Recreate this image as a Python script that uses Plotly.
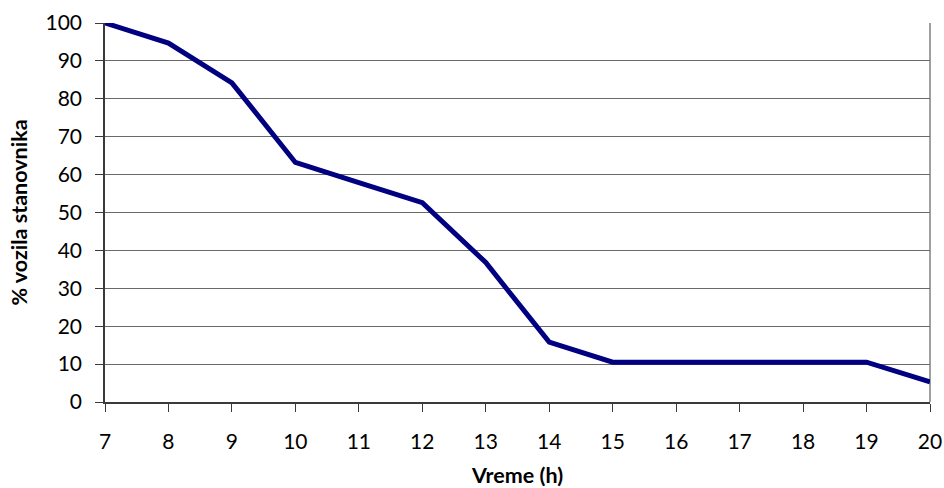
import plotly.graph_objects as go

# Hour of day and share of vehicles per inhabitant (%)
hours = [7, 8, 9, 10, 11, 12, 13, 14, 15, 16, 17, 18, 19, 20]
share = [100, 94.7, 84.2, 63.2, 57.9, 52.6, 36.8, 15.8, 10.5, 10.5, 10.5, 10.5, 10.5, 5.3]

x_ticks = list(range(7, 21))
y_ticks = list(range(0, 101, 10))

FONT = "Lato, 'Open Sans', sans-serif"
GRID = "#6a6a6a"
AXIS = "#3a3a3a"

fig = go.Figure()
fig.add_trace(go.Scatter(
    x=hours, y=share, mode="lines",
    line=dict(color="#000080", width=5),
    showlegend=False, hoverinfo="x+y",
))

# thin grey frame on the right-hand side of the plot area
fig.add_shape(type="line", xref="paper", yref="paper", x0=1, x1=1, y0=0, y1=1,
              line=dict(color="#808080", width=1.5), layer="below")

fig.update_layout(
    width=944, height=488,
    margin=dict(l=105, r=14, t=23, b=86),
    paper_bgcolor="white", plot_bgcolor="white",
    font=dict(family=FONT, size=21, color="black"),
)
fig.update_xaxes(
    range=[7, 20], tickvals=x_ticks, ticktext=[str(v) for v in x_ticks],
    showgrid=False, zeroline=False, automargin=False,
    showline=True, linecolor=AXIS, linewidth=1.5,
    ticks="outside", ticklen=8, tickcolor=AXIS, ticklabelstandoff=12,
    title=dict(text="<b>Vreme (h)</b>", font=dict(size=21.5, family=FONT), standoff=21),
)
fig.update_yaxes(
    range=[0, 100], tickvals=y_ticks,
    showgrid=True, gridcolor=GRID, gridwidth=1.2, zeroline=False, automargin=False,
    showline=True, linecolor=AXIS, linewidth=1.5,
    ticks="outside", ticklen=8, tickcolor=AXIS, ticklabelstandoff=9,
    title=dict(text="<b>% vozila stanovnika</b>", font=dict(size=21.5, family=FONT), standoff=12),
)

fig.write_html("out.html")
